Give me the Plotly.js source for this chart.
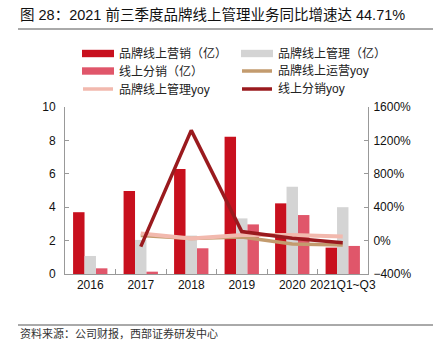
<!DOCTYPE html>
<html>
<head>
<meta charset="utf-8">
<script src="https://cdn.plot.ly/plotly-3.0.1.min.js"></script>
<style>html,body{margin:0;padding:0;background:#fff;}#chart{width:439px;height:352px;}</style>
</head>
<body>
<div id="chart"></div>
<script>
var categories = ['2016', '2017', '2018', '2019', '2020', '2021Q1~Q3'];
var brandSales = [3.7, 4.97, 6.29, 8.22, 4.23, 1.58];
var brandMgmt = [1.08, 2.04, 2.3, 3.33, 5.23, 4.0];
var onlineDist = [0.34, 0.14, 1.54, 2.97, 3.53, 1.68];
var yoyCategories = ['2017', '2018', '2019', '2020', '2021Q1~Q3'];
var brandOpsYoy = [62, 26, 44, -40, -52];
var brandMgmtYoy = [86, 24, 68, 68, 48];
var onlineDistYoy = [-72, 1320, 108, 29, -25];

var seriesNames = ['品牌线上营销（亿）', '品牌线上管理（亿）', '线上分销（亿）', '品牌线上运营yoy', '品牌线上管理yoy', '线上分销yoy'];
var colors = ['#C8101E', '#D4D4D4', '#E0566A', '#C39B6E', '#F2B9AE', '#9A1A1E'];

var W = 439, H = 352, L = 65, R = 71, T = 107, B = 78;
var pw = W - L - R, ph = H - T - B;
function px(x) { return (x - L) / pw; }
function py(y) { return (H - B - y) / ph; }

var font = 'Liberation Sans, Arial, Noto Sans CJK SC, sans-serif';

var traces = [
  {type: 'bar', x: categories, y: brandSales, name: seriesNames[0], marker: {color: colors[0]}, yaxis: 'y'},
  {type: 'bar', x: categories, y: brandMgmt, name: seriesNames[1], marker: {color: colors[1]}, yaxis: 'y'},
  {type: 'bar', x: categories, y: onlineDist, name: seriesNames[2], marker: {color: colors[2]}, yaxis: 'y'},
  {type: 'scatter', mode: 'lines', x: yoyCategories, y: brandOpsYoy, name: seriesNames[3], line: {color: colors[3], width: 3.5}, yaxis: 'y2'},
  {type: 'scatter', mode: 'lines', x: yoyCategories, y: brandMgmtYoy, name: seriesNames[4], line: {color: colors[4], width: 4}, yaxis: 'y2'},
  {type: 'scatter', mode: 'lines', x: yoyCategories, y: onlineDistYoy, name: seriesNames[5], line: {color: colors[5], width: 3.5}, yaxis: 'y2'}
];

var shapes = [
  {type: 'line', xref: 'paper', yref: 'paper', x0: px(18), x1: px(433), y0: py(29), y1: py(29), line: {color: '#555', width: 1}},
  {type: 'line', xref: 'paper', yref: 'paper', x0: px(18), x1: px(433), y0: py(325), y1: py(325), line: {color: '#555', width: 1}}
];
var annotations = [
  {xref: 'paper', yref: 'paper', x: px(18), y: py(333), xanchor: 'left', yanchor: 'middle', showarrow: false,
   text: '资料来源：公司财报，西部证券研发中心', font: {family: font, size: 11, color: '#333'}}
];

var legendPos = [
  [82, 53.5], [241, 53.5], [82, 71], [241, 71], [82, 89], [241, 89]
];
var legendOrder = [0, 1, 2, 3, 4, 5];
legendOrder.forEach(function (si, k) {
  var p = legendPos[k];
  if (si < 3) {
    shapes.push({type: 'rect', xref: 'paper', yref: 'paper', x0: px(p[0]), x1: px(p[0] + 32), y0: py(p[1] - 3.7), y1: py(p[1] + 3.7), fillcolor: colors[si], line: {width: 0}});
  } else {
    shapes.push({type: 'line', xref: 'paper', yref: 'paper', x0: px(p[0] + 1), x1: px(p[0] + 31), y0: py(p[1]), y1: py(p[1]), line: {color: colors[si], width: 3.5}});
  }
  annotations.push({xref: 'paper', yref: 'paper', x: px(p[0] + 35), y: py(p[1]), xanchor: 'left', yanchor: 'middle', showarrow: false,
    text: seriesNames[si], font: {family: font, size: 12, color: '#222'}});
});

var layout = {
  width: W, height: H,
  margin: {l: L, r: R, t: T, b: B, pad: 0},
  paper_bgcolor: '#fff', plot_bgcolor: '#fff',
  showlegend: false,
  barmode: 'group', bargap: 0.32, bargroupgap: 0,
  title: {text: '图 28：2021 前三季度品牌线上管理业务同比增速达 44.71%', xref: 'container', yref: 'container',
          x: 20 / W, xanchor: 'left', y: 1 - 15 / H, yanchor: 'middle', font: {family: font, size: 14.5, color: '#111'}},
  xaxis: {type: 'category', tickangle: 0, showline: true, linecolor: '#999', linewidth: 1,
          ticks: 'inside', tickson: 'boundaries', ticklen: 5, tickcolor: '#999',
          tickfont: {family: font, size: 12, color: '#111'}, showgrid: false, zeroline: false, fixedrange: true},
  yaxis: {range: [0, 10], dtick: 2, showline: true, linecolor: '#999', ticks: 'inside', ticklen: 4, tickcolor: '#999',
          showgrid: false, zeroline: false, tickfont: {family: font, size: 12, color: '#111'}, ticklabelstandoff: 6},
  yaxis2: {range: [-400, 1600], dtick: 400, overlaying: 'y', side: 'right', showline: true, linecolor: '#999',
           ticks: 'inside', ticklen: 4, tickcolor: '#999', ticksuffix: '%', showgrid: false, zeroline: false,
           tickfont: {family: font, size: 12, color: '#111'}, ticklabelstandoff: 2},
  shapes: shapes,
  annotations: annotations
};

Plotly.newPlot('chart', traces, layout, {staticPlot: true, displayModeBar: false});
</script>
</body>
</html>
